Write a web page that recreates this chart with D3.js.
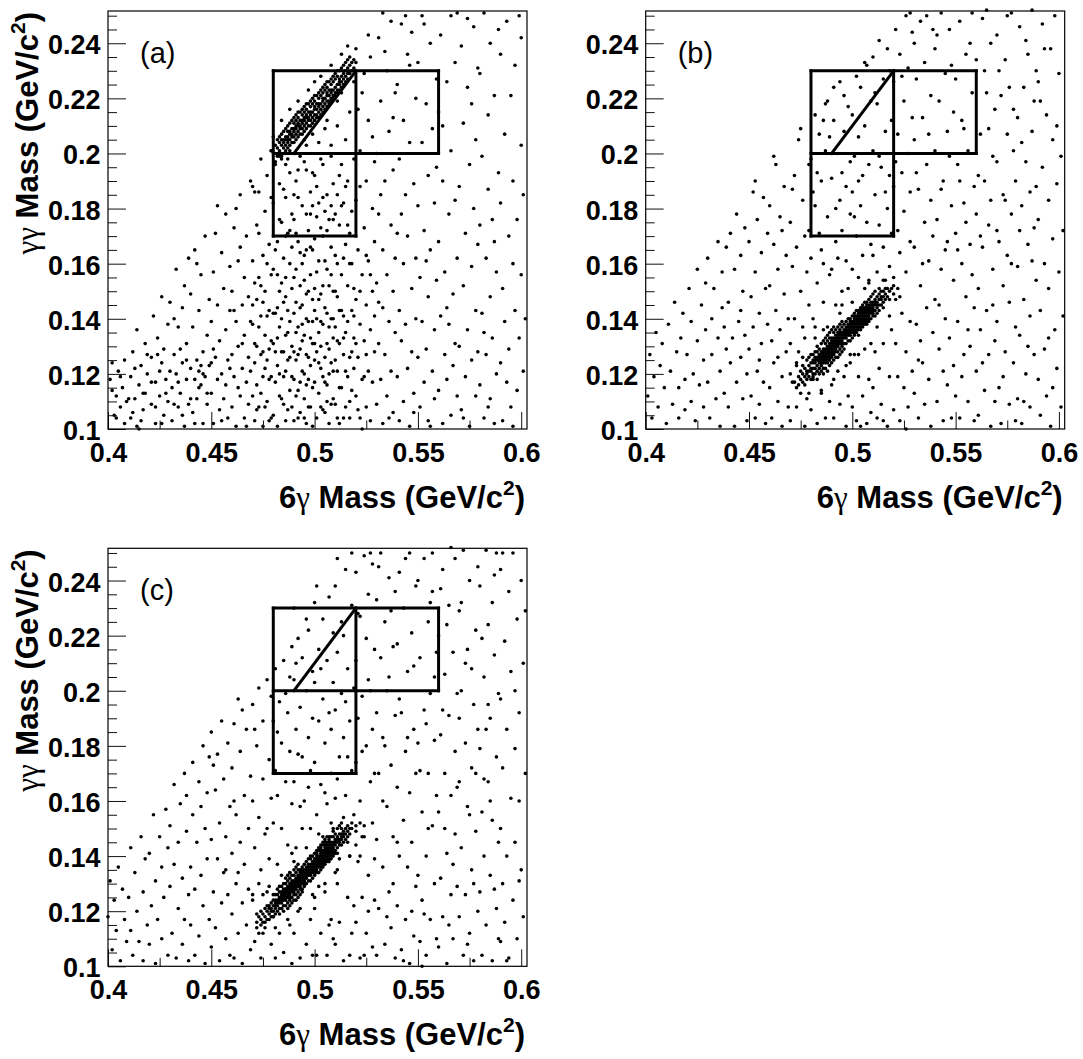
<!DOCTYPE html>
<html><head><meta charset="utf-8">
<script src="https://cdn.jsdelivr.net/npm/d3@7"></script>
<style>body{margin:0;background:#fff}svg{display:block}</style>
</head><body><svg id="chart" width="1083" height="1059"></svg>
<script>
// ---- DATA (all values in units of 0.001 GeV/c^2, flat lists of x,y pairs: [6γ mass, γγ mass]) ----
const scatterA = [
401,118,403,105,404,112,405,121,406,108,407,115,408,102,409,110,402,124,
411,104,411,119,412,128,413,111,414,136,414,101,415,116,416,123,417,107,418,131,418,113,419,120,416,103,
421,109,421,126,422,141,423,117,423,102,424,133,425,121,425,112,426,148,427,105,427,129,428,118,429,138,429,110,426,124,
430,146,431,115,431,103,432,127,433,158,433,120,434,108,434,137,435,113,436,144,436,124,437,101,437,152,438,118,438,131,439,109,439,162,435,129,432,140,
440,122,440,149,441,106,441,137,442,118,442,165,443,125,443,111,444,121,444,143,445,116,445,156,446,102,446,128,447,119,447,170,448,134,448,109,449,147,449,123,445,123,443,160,
450,113,450,139,451,102,451,157,452,126,452,171,453,118,453,145,454,107,454,132,455,164,455,120,456,151,456,111,457,136,457,178,458,125,458,104,459,143,459,159,451,129,453,181,455,103,457,116,459,122,
460,127,460,150,460,108,461,173,461,119,462,139,462,101,463,161,463,130,464,112,464,185,465,145,465,122,466,104,466,155,466,134,467,117,467,170,468,126,468,148,468,109,469,190,469,139,469,121,462,180,464,166,461,143,463,115,467,101,465,131,
470,112,470,138,470,161,471,124,471,103,471,186,472,147,472,130,472,116,473,171,473,108,473,155,474,127,474,198,474,141,475,119,475,163,475,101,476,134,476,179,476,150,477,110,477,125,477,192,478,143,478,118,478,167,479,132,479,104,479,156,479,184,471,153,472,174,473,137,474,113,475,146,476,122,477,160,478,129,479,201,470,188,
480,105,480,131,480,158,480,182,481,117,481,142,481,196,482,123,482,168,482,101,483,137,483,150,483,189,484,111,484,128,484,175,485,146,485,162,485,119,486,103,486,134,486,184,486,155,487,125,487,171,487,143,488,114,488,193,488,139,488,160,489,108,489,130,489,178,489,151,481,165,482,144,483,112,484,199,485,128,485,187,486,121,487,107,487,198,488,126,489,166,490,118,482,133,484,153,483,176,486,170,
490,142,490,176,490,103,491,125,491,158,491,190,492,114,492,137,492,168,493,129,493,152,493,199,493,106,494,121,494,181,494,145,495,134,495,163,495,111,496,127,496,194,496,149,496,102,497,118,497,172,497,139,498,156,498,123,498,186,498,108,499,131,499,147,499,165,499,115,491,135,492,184,493,117,494,160,495,197,496,140,497,126,498,178,499,193,495,120,492,104,494,132,496,165,497,108,499,139,491,171,493,144,490,128,496,203,499,207,
500,117,500,143,500,169,500,192,501,104,501,128,501,157,502,135,502,182,502,113,503,149,503,122,503,173,504,107,504,138,504,196,505,126,505,161,505,144,506,116,506,185,506,131,507,152,507,102,507,176,508,124,508,140,508,166,509,111,509,189,509,133,501,177,502,147,503,198,504,119,505,106,506,158,507,129,508,181,509,150,500,131,502,124,504,170,506,110,508,199,509,121,505,179,503,139,502,204,505,209,508,203,
510,109,510,137,510,163,511,121,511,185,511,148,512,102,512,131,512,174,513,115,513,156,513,196,514,127,514,141,514,182,515,108,515,167,515,135,516,119,516,152,516,190,517,126,517,104,517,171,518,143,518,114,518,160,519,133,519,198,519,122,511,210,513,222,515,205,517,215,519,226,512,192,514,104,516,139,518,179,510,178,511,132,513,143,515,188,517,160,519,151,
520,112,520,147,520,183,521,126,521,165,522,104,522,138,522,201,523,118,523,156,523,222,524,132,524,173,525,108,525,190,525,145,526,121,526,212,526,161,527,136,527,103,527,235,528,150,528,117,528,180,529,128,529,197,529,168,521,216,522,188,524,229,526,243,528,206,520,238,523,100,525,127,527,156,529,141,
530,109,530,153,530,200,531,131,531,178,531,242,532,118,532,219,533,144,533,165,533,102,534,190,534,127,535,230,535,156,535,112,536,208,536,139,537,174,537,248,537,121,538,106,538,194,538,150,539,135,539,222,539,162,532,185,534,237,536,104,538,213,531,146,533,251,
540,119,540,171,540,225,541,143,541,103,541,198,542,247,542,132,543,160,543,212,543,110,544,185,544,138,545,236,545,122,545,170,546,101,546,204,547,151,547,128,547,244,548,189,548,113,549,162,549,220,549,140,542,178,544,250,546,232,548,106,
550,126,550,181,550,233,551,108,551,155,552,204,552,139,553,117,553,247,553,172,554,129,554,218,555,103,555,192,555,148,556,165,556,240,557,121,557,209,558,136,558,182,558,111,559,227,559,154,552,250,554,161,556,101,559,195,
560,114,560,168,560,215,561,141,561,243,562,102,562,190,563,127,563,157,564,226,564,118,565,178,565,138,566,250,566,105,566,201,567,149,567,123,568,183,568,233,569,112,569,162,562,210,564,144,568,131,569,251,
570,130,570,188,571,107,571,239,572,152,572,211,573,119,573,171,574,136,574,224,575,101,575,196,576,159,576,125,577,246,577,180,578,112,578,143,578,205,579,167,579,231,572,104,574,249,576,218,579,128,
580,116,580,174,580,229,581,142,581,199,582,104,582,251,583,127,583,162,584,214,584,187,585,111,585,148,585,240,586,133,586,176,587,102,587,221,588,157,588,120,589,193,589,245,582,135,584,108,587,168,
590,124,590,182,590,236,591,103,591,151,592,207,592,139,593,117,593,248,594,170,594,129,595,221,595,108,596,160,596,190,597,143,597,232,598,114,598,176,599,250,599,133,600,203,600,156,601,121,601,185,602,140,596,101,600,242,
402,114,404,104,406,119,408,125,410,111,412,106,413,122,415,100,417,113,419,127,421,117,423,108,424,127,426,102,428,113,430,121,432,109,434,117,436,105,438,125,440,111,442,102,444,115,446,120,448,113,450,124,
470,145,471,131,472,107,473,186,474,152,475,128,476,108,477,141,478,103,479,119,480,142,481,128,482,156,483,120,484,140,485,109,486,148,487,135,488,172,489,119,490,155,490,185,491,112,491,146,492,127,492,194,493,164,494,138,495,104,495,154,496,116,496,178,497,150,498,133,498,166,499,101,499,181,500,125,500,151,501,140,501,188,502,161,503,108,503,130,504,152,504,184,505,117,506,142,506,172,507,137,507,120,508,109,508,156,509,140,509,176,510,125,510,150,511,104,511,160,512,143,512,115,513,181,514,133,514,162,515,121,516,174,517,110,518,128,519,141,520,131,521,107,522,150,524,119,525,163
];
const signalA = [
481,200,481,203,481,197,482,202,482,199,482,205,483,201,483,204,483,206,483,199,484,203,484,200,484,207,484,205,484,198,
485,204,485,202,485,208,485,200,485,205,486,203,486,206,486,209,486,201,486,205,487,206,487,204,487,208,487,202,487,210,487,205,
488,205,488,208,488,203,488,211,488,207,488,201,489,207,489,209,489,204,489,212,489,206,490,208,490,206,490,211,490,204,490,213,490,209,
491,209,491,207,491,212,491,205,491,210,491,214,492,208,492,211,492,206,492,213,492,210,492,215,493,210,493,212,493,207,493,215,493,209,
494,211,494,209,494,214,494,207,494,216,494,212,495,212,495,210,495,215,495,208,495,213,495,217,496,213,496,211,496,216,496,209,496,218,496,214,
497,213,497,215,497,210,497,218,497,212,498,214,498,212,498,217,498,210,498,219,498,215,499,215,499,213,499,218,499,211,499,220,
500,216,500,214,500,219,500,212,500,221,500,217,501,216,501,218,501,214,501,221,501,213,502,218,502,215,502,220,502,213,502,222,502,217,
503,218,503,216,503,221,503,214,503,223,504,219,504,217,504,222,504,215,504,224,504,220,505,220,505,218,505,223,505,216,505,225,
506,221,506,219,506,224,506,217,506,226,506,222,507,221,507,223,507,219,507,226,507,218,508,222,508,220,508,225,508,219,508,227,508,223,
509,223,509,221,509,226,509,220,509,228,510,224,510,222,510,227,510,221,510,229,511,225,511,223,511,228,511,222,511,230,
512,225,512,227,512,223,512,230,512,226,513,226,513,228,513,224,513,231,514,227,514,229,514,225,514,232,515,228,515,230,515,226,515,233,
516,229,516,231,516,227,516,234,517,229,517,232,517,235,518,230,518,233,519,231,519,234,520,233,
480,206,484,212,488,216,492,219,497,223,503,228,508,232,513,236,516,239,486,196,495,205,506,212,479,201,500,226,511,219
];
const scatterB = [
401,112,402,127,403,104,404,119,405,135,406,108,407,123,408,131,409,115,
410,102,411,138,412,121,413,109,414,146,415,128,416,115,416,104,417,133,418,142,419,118,419,107,
420,127,421,151,422,110,422,139,423,120,424,103,425,158,425,132,426,116,427,145,428,108,428,125,429,153,429,136,
430,117,430,162,431,104,432,140,432,127,433,151,434,111,435,168,435,133,436,121,436,101,437,157,437,144,438,113,439,129,439,166,438,137,
440,108,440,146,441,171,441,124,442,133,443,101,443,158,444,117,444,178,445,139,446,126,446,163,447,111,447,150,448,134,448,173,449,103,449,120,446,143,
450,129,450,168,451,112,451,148,452,186,452,137,453,104,453,157,454,121,454,176,455,142,455,109,456,164,456,131,457,117,457,184,458,151,458,102,459,138,459,171,455,125,453,190,
460,115,460,152,460,181,461,132,461,104,462,167,462,124,463,143,463,196,464,110,464,158,465,136,465,177,466,119,466,101,467,149,467,188,468,128,468,163,469,108,469,140,462,199,466,172,464,126,
470,131,470,175,470,103,471,159,471,117,472,192,472,140,473,108,473,166,474,128,474,205,475,150,475,113,476,183,476,137,477,101,477,170,478,157,478,111,479,196,479,145,471,187,473,124,475,209,477,133,479,172,
480,107,480,162,480,198,481,140,481,119,482,181,482,214,483,153,483,102,484,171,484,207,485,113,485,190,486,146,486,160,487,104,487,201,488,177,488,219,489,156,489,110,481,186,483,193,485,165,487,218,489,206,482,137,486,212,
490,116,490,158,490,191,491,104,491,212,492,168,492,145,493,121,493,200,494,183,494,109,494,226,495,150,495,172,496,119,496,208,497,161,497,101,497,188,498,217,498,151,498,112,499,178,499,197,491,224,493,162,495,193,496,221,499,124,492,180,
500,108,500,158,500,186,500,214,501,127,501,199,502,170,502,103,502,228,503,155,503,119,503,206,504,181,504,224,505,112,505,163,505,192,506,129,506,210,507,102,507,175,507,232,508,154,508,118,508,196,509,167,509,219,509,106,501,177,503,190,506,233,504,101,
510,115,510,163,510,201,510,235,511,128,511,185,512,104,512,157,512,218,513,174,513,122,513,241,514,195,514,109,515,166,515,227,515,131,516,208,516,154,517,101,517,180,517,238,518,119,518,192,518,159,519,212,519,136,519,171,511,222,513,199,515,103,516,186,518,230,
520,107,520,155,520,188,520,226,521,131,521,245,522,172,522,119,522,207,523,103,523,164,523,236,524,142,524,193,525,115,525,219,525,179,526,250,526,128,526,157,527,200,527,108,527,231,528,168,528,139,528,186,529,244,529,121,529,213,521,197,523,148,524,228,526,100,528,251,530,240,
530,113,530,166,530,205,531,138,531,227,532,104,532,187,533,152,533,248,534,124,534,213,535,175,535,109,535,233,536,144,536,196,537,161,537,118,538,221,538,101,538,183,539,135,539,245,539,170,532,125,534,160,536,250,537,207,531,193,533,132,
540,147,540,201,540,238,541,110,541,176,542,129,542,219,543,158,543,251,544,103,544,190,545,140,545,229,546,116,546,168,546,208,547,245,547,133,548,181,548,104,549,154,549,215,549,123,541,243,543,187,545,165,547,199,548,232,542,145,544,121,
550,112,550,171,550,227,551,139,551,196,552,248,552,104,553,160,553,212,554,127,554,182,555,236,555,148,556,110,556,201,557,167,557,130,558,222,558,251,559,144,559,188,559,103,551,165,553,119,555,175,557,240,558,156,554,209,556,136,552,190,
560,121,560,178,560,234,561,105,561,151,562,207,562,136,563,249,563,166,564,114,564,190,565,143,565,222,566,127,566,174,567,101,567,240,568,158,568,199,569,132,569,216,569,110,561,192,563,124,565,252,566,209,568,145,562,170,564,230,567,183,
570,139,570,197,570,243,571,115,571,168,572,221,572,102,573,152,573,185,574,128,574,234,575,163,575,207,576,109,576,146,577,251,577,178,578,124,578,216,579,190,579,137,579,103,571,230,573,119,575,250,577,160,578,201,570,172,574,183,576,224,
580,111,580,159,580,213,581,134,581,246,582,181,582,102,583,224,583,147,584,120,584,197,585,167,585,236,586,108,586,141,587,208,587,252,588,173,588,127,589,188,589,154,589,230,581,172,583,110,585,130,587,161,588,219,582,204,584,241,586,186,
590,118,590,176,590,226,591,143,591,105,592,195,592,247,593,160,593,129,594,214,594,112,595,183,595,151,596,238,596,101,597,169,597,205,598,136,598,250,599,122,599,189,600,157,600,229,601,108,601,199,602,141,602,172,591,219,593,238,595,133,597,115,599,210
];
const peakB = [
472,117,473,115,474,119,474,116,475,118,475,121,476,120,476,117,476,123,477,119,477,122,477,116,478,121,478,118,478,125,478,120,
479,123,479,119,479,121,479,126,480,121,480,124,480,118,480,122,480,127,481,124,481,120,481,122,481,127,481,118,481,125,
482,122,482,125,482,128,482,120,482,124,482,126,483,125,483,121,483,123,483,128,483,126,483,118,483,130,
484,124,484,127,484,122,484,126,484,129,484,120,484,125,485,126,485,123,485,128,485,125,485,131,485,121,485,127,485,124,
486,127,486,125,486,129,486,122,486,126,486,132,486,128,486,120,486,124,487,126,487,129,487,124,487,128,487,131,487,127,487,122,487,133,487,125,
488,128,488,126,488,130,488,127,488,124,488,132,488,129,488,121,488,134,488,125,489,129,489,127,489,131,489,125,489,128,489,133,489,130,489,123,489,126,489,135,
490,130,490,128,490,131,490,126,490,129,490,133,490,127,490,124,490,132,490,136,491,131,491,129,491,133,491,127,491,130,491,135,491,128,491,125,491,132,491,137,
492,130,492,132,492,128,492,134,492,131,492,126,492,133,492,129,492,136,493,132,493,130,493,134,493,131,493,128,493,135,493,133,493,126,493,137,
494,133,494,131,494,135,494,132,494,129,494,136,494,134,494,127,494,138,495,134,495,132,495,130,495,135,495,133,495,137,495,128,495,131,495,139,
496,134,496,131,496,136,496,133,496,138,496,129,496,135,497,135,497,133,497,137,497,134,497,131,497,139,497,136,
498,136,498,134,498,137,498,132,498,135,498,140,498,138,499,136,499,138,499,134,499,137,499,132,499,140,499,135,499,139,
500,137,500,135,500,139,500,136,500,133,500,141,500,138,501,138,501,136,501,140,501,137,501,134,501,142,501,139,501,135,501,141,
502,139,502,137,502,141,502,138,502,135,502,143,502,140,502,136,503,139,503,141,503,137,503,140,503,143,503,136,503,138,503,142,503,134,
504,140,504,138,504,142,504,141,504,136,504,144,504,139,504,137,504,143,505,141,505,139,505,143,505,140,505,137,505,145,505,142,505,138,505,144,
506,141,506,143,506,139,506,142,506,146,506,138,506,144,506,140,507,142,507,140,507,144,507,143,507,138,507,146,507,141,507,145,507,139,
508,143,508,141,508,145,508,142,508,139,508,147,508,144,508,140,509,144,509,142,509,146,509,143,509,140,509,148,509,145,
510,144,510,146,510,142,510,145,510,141,510,149,510,143,511,145,511,147,511,143,511,146,511,141,511,150,
512,146,512,144,512,148,512,145,512,142,513,147,513,145,513,149,513,143,513,151,514,147,514,145,514,150,514,148,515,148,515,146,515,150,515,144,
516,149,516,147,516,151,517,148,517,151,518,150,518,147,519,151,520,152,520,149,522,151,
470,120,473,123,476,126,479,113,482,133,485,114,488,137,491,118,494,142,497,123,500,146,503,127,506,151,509,131,512,137,515,154,518,141,521,147,486,136,499,127,508,153,495,145
];
const scatterC = [
400,118,401,131,402,106,403,124,404,113,405,136,406,102,407,128,408,117,409,109,
410,125,411,113,411,143,412,104,413,134,414,120,415,109,416,147,417,127,417,102,418,139,419,115,
420,141,420,108,421,122,422,155,423,131,423,101,424,117,425,147,426,110,426,136,427,125,428,157,429,104,429,143,
430,129,430,151,431,112,432,166,432,137,433,103,434,145,434,121,435,159,436,108,436,132,437,170,437,117,438,149,439,126,439,102,438,162,
440,136,440,115,441,174,441,155,442,104,442,128,443,145,444,167,444,111,445,133,446,122,446,180,447,150,447,101,448,163,448,139,449,117,449,176,445,158,
450,107,450,146,450,185,451,127,452,164,452,114,453,139,453,177,454,102,454,152,455,123,455,189,456,134,456,168,457,110,457,147,458,181,458,126,459,158,459,104,451,173,457,135,
460,141,460,172,460,119,461,103,461,188,462,130,462,155,463,112,463,197,464,145,464,178,465,123,465,101,466,162,466,137,467,186,467,115,468,150,468,128,469,169,469,106,461,160,463,134,465,193,
470,126,470,160,470,195,471,109,471,143,472,180,472,119,473,154,473,201,474,135,474,103,475,168,475,189,476,114,476,148,477,204,477,127,478,175,478,139,479,108,479,161,471,186,473,130,475,112,477,150,479,198,
480,118,480,152,480,189,481,103,481,171,481,208,482,137,482,162,483,112,483,196,484,150,484,181,485,105,485,211,486,167,486,128,487,192,487,144,488,115,488,178,488,205,489,159,489,101,489,216,482,185,484,121,486,199,488,134,
490,112,490,167,490,204,491,186,491,143,492,120,492,219,493,158,493,103,493,194,494,176,494,212,495,131,495,160,496,108,496,200,497,183,497,222,498,150,498,117,498,171,499,207,499,104,499,190,491,210,492,177,494,150,496,226,497,165,490,230,
500,121,500,174,500,203,500,232,501,104,501,155,502,189,502,215,503,112,503,166,504,197,504,226,505,127,505,181,506,104,506,159,506,211,507,192,507,234,508,117,508,170,509,150,509,203,509,221,501,238,502,129,503,208,505,163,507,115,508,186,504,147,509,110,
510,108,510,161,510,193,510,238,511,130,511,214,512,176,512,116,513,152,513,225,513,199,514,102,514,183,515,162,515,244,516,125,516,208,517,189,517,140,518,112,518,171,518,231,519,155,519,201,511,248,512,139,514,220,516,176,517,104,519,122,515,196,511,168,518,250,
520,116,520,174,520,211,520,243,521,138,521,190,522,103,522,160,522,227,523,125,523,198,524,249,524,147,525,180,525,112,525,219,526,133,526,235,527,167,527,200,528,107,528,152,528,186,528,246,529,124,529,215,529,139,521,228,523,178,524,104,526,120,527,250,529,170,522,140,526,204,
530,104,530,146,530,192,530,233,531,170,531,121,532,212,532,250,533,136,533,183,534,108,534,225,535,158,535,200,536,127,536,241,537,173,537,114,538,147,538,216,539,191,539,103,539,236,531,245,533,160,535,118,537,229,538,130,534,180,536,205,
540,122,540,165,540,217,541,243,541,140,542,106,542,192,543,153,543,230,544,117,544,178,545,207,545,136,546,250,546,101,546,163,547,221,547,145,548,186,548,111,549,238,549,129,549,170,541,197,543,102,545,183,547,120,548,209,540,145,544,248,
550,133,550,181,550,240,551,109,551,212,552,156,552,124,553,193,553,248,554,140,554,104,555,225,555,170,556,117,556,199,557,151,557,236,558,130,558,182,559,110,559,214,559,162,551,171,553,119,555,150,556,232,558,205,552,100,554,188,557,250,
560,107,560,156,560,220,561,184,561,132,562,244,562,118,563,170,563,206,564,141,564,101,565,191,565,231,566,126,566,162,567,214,567,110,568,248,568,148,568,178,569,129,569,199,561,237,563,150,565,115,566,252,567,137,569,165,562,193,564,224,
570,118,570,167,570,229,571,143,571,200,572,104,572,251,573,181,573,126,574,158,574,215,575,112,575,240,576,172,576,135,577,195,577,102,578,222,578,149,579,120,579,186,579,245,571,232,573,210,575,155,577,130,578,170,570,190,574,108,576,208,
580,127,580,179,580,238,581,104,581,156,582,205,582,140,583,251,583,115,584,167,584,224,585,190,585,133,586,102,586,153,587,213,587,242,588,121,588,176,589,145,589,199,589,110,581,219,583,186,585,160,586,232,587,128,588,250,582,168,584,195,
590,109,590,150,590,197,590,244,591,130,591,172,592,218,592,116,593,186,593,140,594,236,594,103,595,161,595,207,596,124,596,250,597,179,597,145,598,226,598,110,599,192,599,160,600,135,600,240,601,118,601,210,602,170,602,229,591,250,593,102,597,200,599,131
];
const peakC = [
472,116,472,114,473,118,474,117,474,115,474,120,475,119,475,116,476,118,476,121,476,116,477,120,477,117,477,122,478,119,478,122,478,117,478,121,479,121,479,123,479,118,479,120,
480,122,480,120,480,124,480,118,480,126,481,121,481,123,481,126,481,119,481,124,481,122,482,124,482,122,482,126,482,120,482,123,482,128,
483,123,483,125,483,121,483,127,483,124,483,119,483,129,484,125,484,123,484,127,484,124,484,121,484,129,484,126,
485,126,485,124,485,128,485,125,485,122,485,130,485,127,485,120,486,126,486,128,486,124,486,127,486,130,486,122,486,125,486,132,
487,127,487,125,487,129,487,126,487,123,487,131,487,128,487,121,487,133,488,128,488,126,488,130,488,127,488,124,488,132,488,129,488,125,488,134,488,122,
489,129,489,127,489,131,489,128,489,125,489,133,489,130,489,123,490,129,490,131,490,127,490,130,490,126,490,133,490,128,490,124,490,135,
491,130,491,128,491,132,491,129,491,126,491,134,491,131,491,124,491,136,492,131,492,129,492,133,492,130,492,127,492,135,492,132,492,125,492,137,
493,131,493,133,493,129,493,132,493,135,493,128,493,130,493,134,493,126,494,132,494,134,494,130,494,133,494,128,494,136,494,131,494,135,494,127,
495,133,495,131,495,135,495,132,495,129,495,137,495,134,495,130,496,134,496,132,496,136,496,133,496,130,496,138,496,135,
497,135,497,133,497,137,497,134,497,131,497,139,497,136,498,135,498,137,498,133,498,136,498,131,498,139,498,134,498,140,
499,136,499,134,499,138,499,135,499,132,499,140,499,137,500,137,500,135,500,139,500,136,500,133,500,141,500,138,500,134,
501,137,501,139,501,135,501,138,501,141,501,134,501,136,501,142,501,140,502,138,502,136,502,140,502,139,502,134,502,142,502,137,502,143,
503,139,503,137,503,141,503,140,503,135,503,143,503,138,503,136,503,142,503,144,504,140,504,138,504,142,504,139,504,136,504,144,504,141,504,137,504,145,
505,141,505,139,505,143,505,140,505,137,505,145,505,142,505,138,505,144,505,146,506,141,506,143,506,139,506,142,506,145,506,138,506,140,506,144,506,147,
507,142,507,140,507,144,507,143,507,138,507,146,507,141,507,145,507,139,507,147,508,143,508,141,508,145,508,142,508,139,508,147,508,144,508,140,
509,143,509,145,509,141,509,144,509,140,509,147,509,142,509,149,510,144,510,142,510,146,510,145,510,141,510,148,511,145,511,143,511,147,511,146,511,141,511,150,
512,146,512,144,512,148,512,145,512,151,513,146,513,148,513,144,513,147,513,150,514,147,514,145,514,149,514,148,515,148,515,146,515,150,
516,149,516,147,516,151,516,145,517,150,517,148,518,150,518,152,520,151,520,149,522,152,524,151,
470,124,473,112,475,126,478,129,481,114,484,133,487,117,490,138,493,121,496,143,499,126,502,148,505,130,508,152,511,135,514,154,517,140,520,144,523,147,489,141,500,125,510,134
];

const panelLabels = ["(a)", "(b)", "(c)"];
const xTickValues = [0.4, 0.45, 0.5, 0.55, 0.6];
const xTickLabels = ["0.4", "0.45", "0.5", "0.55", "0.6"];
const xMinorValues = [0.425, 0.475, 0.525, 0.575];
const yTickValues = [0.1, 0.12, 0.14, 0.16, 0.18, 0.2, 0.22, 0.24];
const yTickLabels = ["0.1", "0.12", "0.14", "0.16", "0.18", "0.2", "0.22", "0.24"];
const xDomain = [0.4, 0.6028];
const yDomain = [0.1, 0.2517];
// cut regions (GeV/c^2): segments [x1,y1,x2,y2]
const cutSegments = [
  [0.48,0.17,0.48,0.23],[0.48,0.23,0.56,0.23],[0.56,0.23,0.56,0.20],
  [0.48,0.20,0.56,0.20],[0.48,0.17,0.52,0.17],[0.52,0.17,0.52,0.23],
  [0.49,0.20,0.52,0.23]
];

// ---- RENDERING ----
const FONT = '"Liberation Sans", Arial, Helvetica, sans-serif';
const GREEK = '"Liberation Serif", "Times New Roman", serif';
const W = 419, H = 418;
const panels = [
  {left:108,  top:11,    bg:scatterA, pk:signalA, ytitle:true},
  {left:645.7,top:11,    bg:scatterB, pk:peakB,   ytitle:false},
  {left:108,  top:548.3, bg:scatterC, pk:peakC,   ytitle:true}
];
function toPairs(flat){ const o=[]; for(let i=0;i<flat.length;i+=2) o.push([flat[i]/1000, flat[i+1]/1000]); return o; }

const svg = d3.select("#chart");
svg.append("rect").attr("width",1083).attr("height",1059).attr("fill","#fff");

const x = d3.scaleLinear().domain(xDomain).range([0, W]);
const y = d3.scaleLinear().domain(yDomain).range([H, 0]);
const yMinorValues = d3.range(0.1, 0.2501, 0.005).filter(v => !yTickValues.some(t => Math.abs(t - v) < 1e-6));

function title(sel, pre, greek) {
  sel.append("tspan").text(pre);
  sel.append("tspan").attr("font-family", GREEK).attr("font-weight", "normal").text(greek);
  sel.append("tspan").text(" Mass (GeV/c");
  sel.append("tspan").attr("font-size", 21).attr("dy", -13).text("2");
  sel.append("tspan").attr("dy", 13).text(")");
}

panels.forEach((p, pi) => {
  const g = svg.append("g").attr("transform", `translate(${p.left},${p.top})`);
  const pts = toPairs(p.bg).concat(toPairs(p.pk));
  g.append("g").selectAll("circle").data(pts).join("circle")
    .attr("cx", d => x(d[0])).attr("cy", d => y(d[1])).attr("r", 1.8).attr("fill", "#000");

  // minor ticks
  g.append("g").call(d3.axisLeft(y).tickValues(yMinorValues).tickSize(-9).tickFormat(() => ""))
    .call(s => { s.select(".domain").remove(); s.selectAll("line").attr("stroke", "#111"); });
  g.append("g").attr("transform", `translate(0,${H})`)
    .call(d3.axisBottom(x).tickValues(xMinorValues).tickSize(-8.5).tickFormat(() => ""))
    .call(s => { s.select(".domain").remove(); s.selectAll("line").attr("stroke", "#111"); });
  // major ticks + labels
  g.append("g").call(d3.axisLeft(y).tickValues(yTickValues).tickSize(-18).tickPadding(7.5)
      .tickFormat((d, i) => yTickLabels[i]))
    .call(s => {
      s.select(".domain").remove();
      s.selectAll("line").attr("stroke", "#111");
      s.selectAll("text").attr("dy", 10.5).attr("font-size", 27).attr("font-weight", "bold")
        .attr("font-family", FONT).attr("fill", "#000");
    });
  g.append("g").attr("transform", `translate(0,${H})`)
    .call(d3.axisBottom(x).tickValues(xTickValues).tickSize(-17).tickPadding(13.5)
      .tickFormat((d, i) => xTickLabels[i]))
    .call(s => {
      s.select(".domain").remove();
      s.selectAll("line").attr("stroke", "#111");
      s.selectAll("text").attr("font-size", 27).attr("font-weight", "bold")
        .attr("font-family", FONT).attr("fill", "#000");
    });

  // frame
  g.append("rect").attr("x", 0).attr("y", 0).attr("width", W).attr("height", H)
    .attr("fill", "none").attr("stroke", "#000").attr("stroke-width", 1.2);

  // cut boxes
  g.append("g").selectAll("line").data(cutSegments).join("line")
    .attr("x1", d => x(d[0])).attr("y1", d => y(d[1])).attr("x2", d => x(d[2])).attr("y2", d => y(d[3]))
    .attr("stroke", "#000").attr("stroke-width", 3).attr("stroke-linecap", "square");

  // panel label
  g.append("text").attr("x", 32).attr("y", 52).attr("font-family", FONT).attr("font-size", 29)
    .attr("fill", "#000").text(panelLabels[pi]);

  // x title
  const xt = g.append("text").attr("x", W - 2).attr("y", H + 79).attr("text-anchor", "end")
    .attr("font-family", FONT).attr("font-size", 31).attr("font-weight", "bold").attr("fill", "#000");
  title(xt, "6", "γ");

  if (p.ytitle) {
    const yt = g.append("text").attr("transform", "translate(-70.5,1) rotate(-90)").attr("text-anchor", "end")
      .attr("font-family", FONT).attr("font-size", 31).attr("font-weight", "bold").attr("fill", "#000");
    title(yt, "", "γγ");
  }
});
</script></body></html>
